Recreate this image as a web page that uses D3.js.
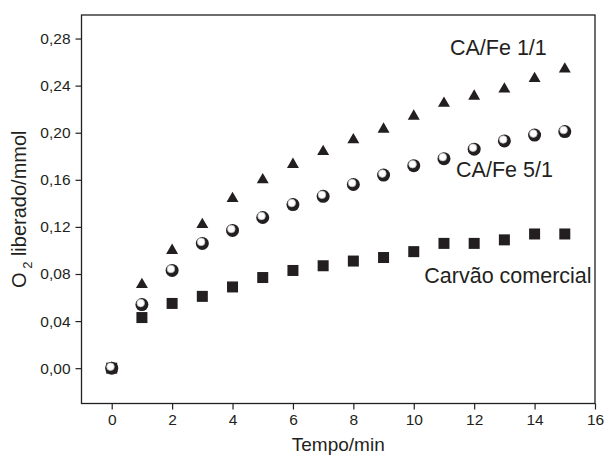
<!DOCTYPE html>
<html>
<head>
<meta charset="utf-8">
<script src="https://cdn.jsdelivr.net/npm/d3@7"></script>
<style>
  body { margin: 0; background: #fff; }
  text { font-family: "Liberation Sans", Arial, sans-serif; fill: #231f20; }
</style>
</head>
<body>
<script>
// time points (min)
const tempo = [0, 1, 2, 3, 4, 5, 6, 7, 8, 9, 10, 11, 12, 13, 14, 15];
// O2 released (mmol)
const caFe11 = [0, 0.071, 0.100, 0.122, 0.144, 0.160, 0.173, 0.184, 0.194, 0.203, 0.214, 0.225, 0.231, 0.237, 0.246, 0.254];
const caFe51 = [0, 0.054, 0.083, 0.106, 0.117, 0.128, 0.139, 0.146, 0.156, 0.164, 0.172, 0.178, 0.186, 0.193, 0.198, 0.201];
const carvao = [0, 0.043, 0.055, 0.061, 0.069, 0.077, 0.083, 0.087, 0.091, 0.094, 0.099, 0.106, 0.106, 0.109, 0.114, 0.114];
const xTicks = [0, 2, 4, 6, 8, 10, 12, 14, 16];
const yTicks = [0, 0.04, 0.08, 0.12, 0.16, 0.20, 0.24, 0.28];

const width = 604, height = 461;
const margin = {left: 81.5, right: 9, top: 15, bottom: 57.5};

const svg = d3.select('body').append('svg')
    .attr('width', width)
    .attr('height', height);

const x = d3.scaleLinear().domain([-1, 16]).range([margin.left, width - margin.right]);
const y = d3.scaleLinear().domain([-0.03, 0.30]).range([height - margin.bottom, margin.top]);

const fmt = d => d3.format('.2f')(d).replace('.', ',');

// axes
const xAxis = svg.append('g')
    .attr('transform', `translate(0,${height - margin.bottom})`)
    .call(d3.axisBottom(x).tickValues(xTicks).tickSize(6).tickPadding(4).tickSizeOuter(0));
const yAxis = svg.append('g')
    .attr('transform', `translate(${margin.left},0)`)
    .call(d3.axisLeft(y).tickValues(yTicks).tickFormat(fmt).tickSize(6).tickPadding(5).tickSizeOuter(0));

[xAxis, yAxis].forEach(a => {
    a.select('.domain').remove();
    a.selectAll('line').attr('stroke', '#231f20').attr('stroke-width', 1.2);
    a.selectAll('text').style('font-size', '15.5px').attr('fill', '#231f20');
});

// frame
svg.append('rect')
    .attr('x', margin.left).attr('y', margin.top)
    .attr('width', width - margin.left - margin.right)
    .attr('height', height - margin.top - margin.bottom)
    .attr('fill', 'none').attr('stroke', '#231f20').attr('stroke-width', 1.3);

// series
const sq = tempo.map((t, i) => ({t, v: carvao[i]}));
const tri = tempo.map((t, i) => ({t, v: caFe11[i]}));
const circ = tempo.map((t, i) => ({t, v: caFe51[i]}));

svg.append('g').selectAll('rect').data(sq).enter().append('rect')
    .attr('x', d => x(d.t) - 5.5).attr('y', d => y(d.v) - 5.5)
    .attr('width', 11).attr('height', 11)
    .attr('fill', '#231f20');

const triSym = d3.symbol().type(d3.symbolTriangle).size(62);
svg.append('g').selectAll('path').data(tri).enter().append('path')
    .attr('d', triSym)
    .attr('transform', d => `translate(${x(d.t)},${y(d.v)})`)
    .attr('fill', '#231f20');

const balls = svg.append('g').selectAll('g').data(circ).enter().append('g')
    .attr('transform', d => `translate(${x(d.t)},${y(d.v)})`);
balls.append('circle').attr('r', 6.5).attr('fill', '#231f20');
balls.append('circle').attr('cx', -1.2).attr('cy', -1.5).attr('r', 3.8)
    .attr('fill', '#fff').attr('stroke', '#bbb').attr('stroke-width', 0.8);

// labels
const labels = [
    {text: 'CA/Fe 1/1', t: 11.2, v: 0.266},
    {text: 'CA/Fe 5/1', t: 11.4, v: 0.162},
    {text: 'Carvão comercial', t: 10.35, v: 0.072}
];
svg.append('g').selectAll('text').data(labels).enter().append('text')
    .attr('x', d => x(d.t)).attr('y', d => y(d.v))
    .style('font-size', '21.5px')
    .text(d => d.text);

// axis titles
svg.append('text')
    .attr('x', x(7.5)).attr('y', 451)
    .attr('text-anchor', 'middle')
    .style('font-size', '19px')
    .text('Tempo/min');

const yt = svg.append('text')
    .attr('transform', `translate(26,${(margin.top + height - margin.bottom) / 2}) rotate(-90)`)
    .attr('text-anchor', 'middle')
    .style('font-size', '20px');
yt.append('tspan').text('O');
yt.append('tspan').attr('dy', 6).style('font-size', '13px').text(' 2');
yt.append('tspan').attr('dy', -6).text(' liberado/mmol');
</script>
</body>
</html>
